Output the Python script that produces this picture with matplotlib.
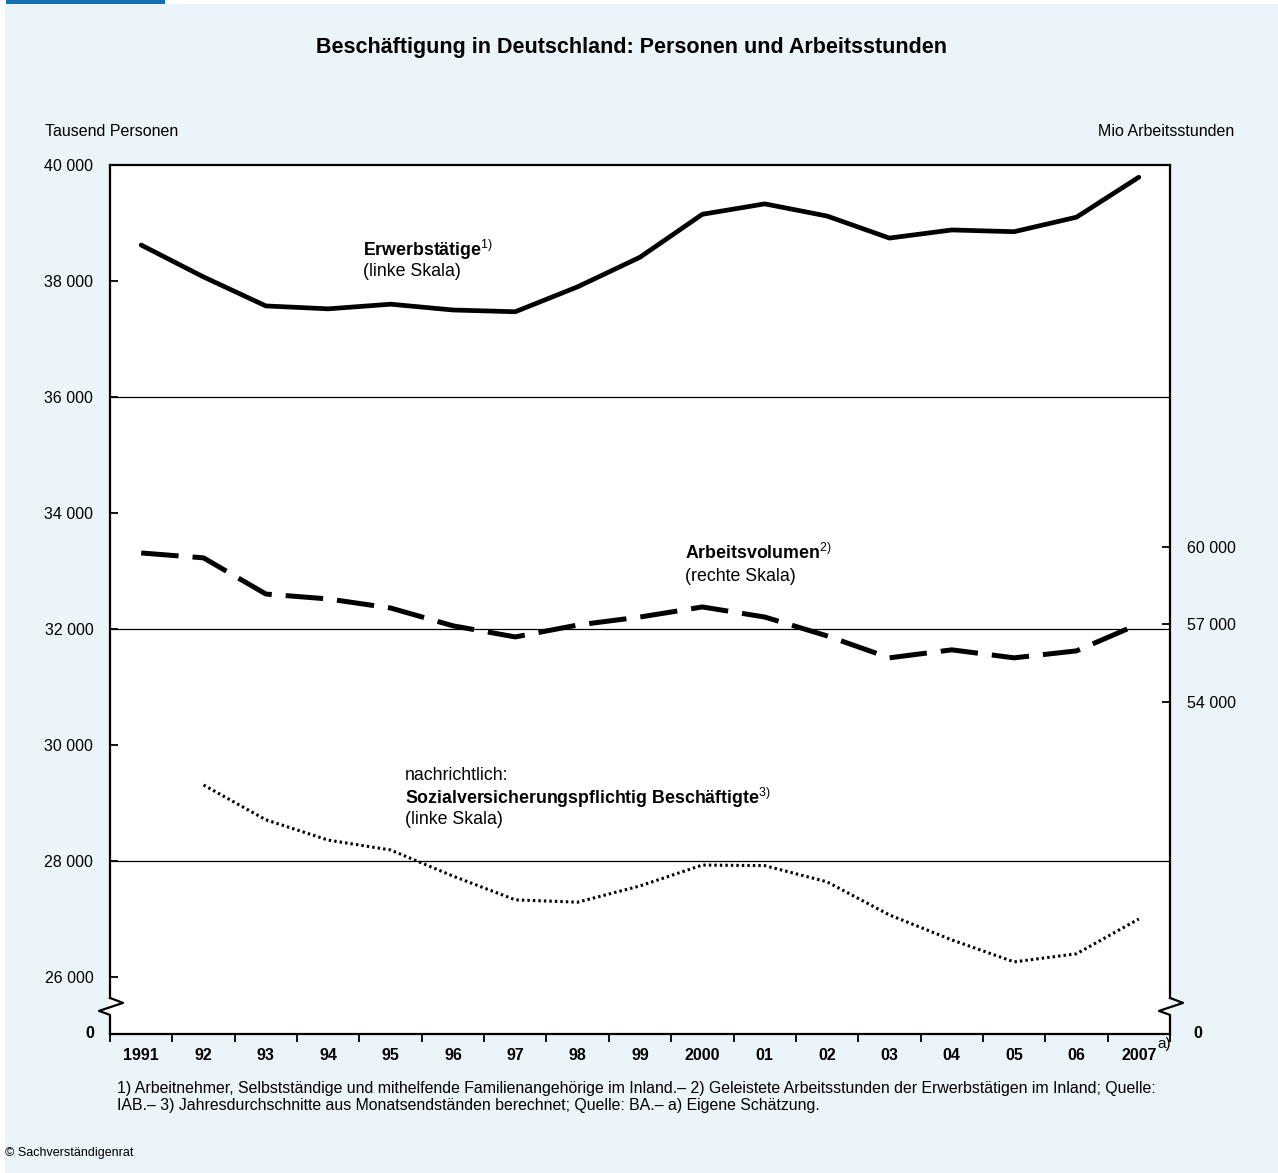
import matplotlib
matplotlib.use("Agg")
import matplotlib.pyplot as plt
from matplotlib.patches import Rectangle
from matplotlib.lines import Line2D
import numpy as np

plt.rcParams['font.family'] = ['Liberation Sans', 'DejaVu Sans']
plt.rcParams['mathtext.fontset'] = 'custom'
plt.rcParams['mathtext.rm'] = 'Liberation Sans'
plt.rcParams['mathtext.default'] = 'rm'

# Daten
jahre = ['1991', '92', '93', '94', '95', '96', '97', '98', '99', '2000',
         '01', '02', '03', '04', '05', '06', '2007']
erwerbstaetige = [38620, 38070, 37570, 37520, 37600, 37500, 37470, 37900, 38410,
                  39150, 39330, 39120, 38740, 38880, 38850, 39100, 39790]
arbeitsvolumen = [59750, 59560, 58160, 57970, 57620, 56930, 56500, 56960, 57270,
                  57660, 57270, 56540, 55690, 56000, 55690, 55960, 57000]
sv_beschaeftigte = [np.nan, 29310, 28710, 28360, 28190, 27740, 27330, 27290, 27570,
                    27930, 27920, 27640, 27070, 26640, 26260, 26400, 27000]

links_ticks = [26000, 28000, 30000, 32000, 34000, 36000, 38000, 40000]
rechts_ticks = [54000, 57000, 60000]
gitter = [28000, 32000, 36000]

# Skalen: 0 der Achse liegt unter dem Bruch
y_unten, y_oben = 25017, 40000
faktor = (3000 / 77.5) / (2000 / 116)   # rechte Skala je Einheit linke Skala
bezug = 32086                            # linke Skala auf Hoehe von 57 000
r_unten = 57000 + (y_unten - bezug) * faktor
r_oben = 57000 + (y_oben - bezug) * faktor

fig = plt.figure(figsize=(12.78, 11.73), dpi=100)
fig.patch.set_facecolor('white')
bg = '#ebf4f8'
fig.patches.append(Rectangle((5 / 1278, 0), 1, 1 - 4 / 1173, transform=fig.transFigure,
                             facecolor=bg, edgecolor='none', zorder=-10))
fig.patches.append(Rectangle((6 / 1278, 1 - 4 / 1173), 159 / 1278, 4 / 1173,
                             transform=fig.transFigure, facecolor='#1470b0',
                             edgecolor='none', zorder=-9))

ax = fig.add_axes([110 / 1278, 1 - 1034 / 1173, 1060 / 1278, 869 / 1173])
ax.set_facecolor('white')
x = np.arange(len(jahre)) + 0.5
ax.set_xlim(0, len(jahre))
ax.set_ylim(y_unten, y_oben)

for g in gitter:
    ax.axhline(g, color='black', lw=0.9, zorder=1)

ax.plot(x, erwerbstaetige, color='black', lw=3.4, solid_joinstyle='round',
        solid_capstyle='round', zorder=3)
ax.plot(x, sv_beschaeftigte, color='black', lw=2.2, linestyle=(0, (0.8, 1.0)),
        dash_capstyle='butt', zorder=3)

ax2 = ax.twinx()
ax2.set_ylim(r_unten, r_oben)
ax2.plot(x, arbeitsvolumen, color='black', lw=3.6, linestyle=(0, (7.5, 2.8)),
         dash_capstyle='butt', zorder=3)

# Achsen
for sp in ax2.spines.values():
    sp.set_visible(False)
for name in ['top', 'bottom']:
    ax.spines[name].set_linewidth(1.6)
for name in ['left', 'right']:
    ax.spines[name].set_linewidth(1.6)
    ax.spines[name].set_bounds(25639, y_oben)

ax.set_xticks(np.arange(len(jahre) + 1))
ax.set_xticklabels([])
ax.set_xticks(x, minor=True)
ax.set_xticklabels(jahre, minor=True, fontsize=11.5, fontweight='bold')
ax.tick_params(axis='x', which='major', direction='out', length=6, width=1.3)
ax.tick_params(axis='x', which='minor', length=0, pad=10)

ax.set_yticks(links_ticks)
ax.set_yticklabels([f'{v:,}'.replace(',', ' ') for v in links_ticks], fontsize=11.5)
ax.tick_params(axis='y', direction='in', length=6, width=1.3, pad=12, right=False)

ax2.set_yticks(rechts_ticks)
ax2.set_yticklabels([f'{v:,}'.replace(',', ' ') for v in rechts_ticks], fontsize=11.5)
ax2.tick_params(axis='y', direction='in', length=6, width=1.3, pad=12)

# Achsenbruch
yt = ax.get_yaxis_transform()
dx1, dx2 = 13 / 1060, 11 / 1060
for x0 in (0, 1):
    ax.add_line(Line2D([x0, x0 + dx1, x0 - dx2, x0, x0],
                       [25639, 25553, 25415, 25346, y_unten],
                       transform=yt, color='black', lw=1.6, clip_on=False, zorder=5))
ax.text(-0.015, y_unten, '0', transform=yt, ha='right', va='center',
        fontsize=11.5, fontweight='bold')
ax.text(1.022, y_unten, '0', transform=yt, ha='left', va='center',
        fontsize=11.5, fontweight='bold')
ax.text(16.5 + 0.29, -0.011, 'a)', transform=ax.get_xaxis_transform(),
        ha='left', va='center', fontsize=11)

# Beschriftungen
ax.text(-65 / 1060, 1 + 34 / 869, 'Tausend Personen', transform=ax.transAxes,
        ha='left', va='center', fontsize=11.5)
ax.text(1 + 64 / 1060, 1 + 34 / 869, 'Mio Arbeitsstunden', transform=ax.transAxes,
        ha='right', va='center', fontsize=11.5)
fig.text(632 / 1278, 1 - 48 / 1173, 'Beschäftigung in Deutschland: Personen und Arbeitsstunden',
         ha='center', va='center', fontsize=15.5, fontweight='bold')

lab = dict(transform=ax.transAxes, ha='left', va='center', fontsize=12.8)
ax.text(0.2387, 0.9022, r'Erwerbstätige$^{1)}$', fontweight='bold', **lab)
ax.text(0.2387, 0.878, '(linke Skala)', **lab)
ax.text(0.5425, 0.5535, r'Arbeitsvolumen$^{2)}$', fontweight='bold', **lab)
ax.text(0.5425, 0.527, '(rechte Skala)', **lab)
ax.text(0.2783, 0.2969, 'nachrichtlich:', **lab)
ax.text(0.2783, 0.2716, r'Sozialversicherungspflichtig Beschäftigte$^{3)}$',
        fontweight='bold', **lab)
ax.text(0.2783, 0.2463, '(linke Skala)', **lab)

fig.text(117 / 1278, 1 - 1081 / 1173,
         '1) Arbeitnehmer, Selbstständige und mithelfende Familienangehörige im Inland.– '
         '2) Geleistete Arbeitsstunden der Erwerbstätigen im Inland; Quelle:\n'
         'IAB.– 3) Jahresdurchschnitte aus Monatsendständen berechnet; Quelle: BA.– '
         'a) Eigene Schätzung.',
         ha='left', va='top', fontsize=11.45, linespacing=1.14)
fig.text(5 / 1278, 1 - 1153 / 1173, '© Sachverständigenrat', ha='left', va='center',
         fontsize=9)

fig.savefig('out.png', dpi=100, facecolor=fig.get_facecolor())
